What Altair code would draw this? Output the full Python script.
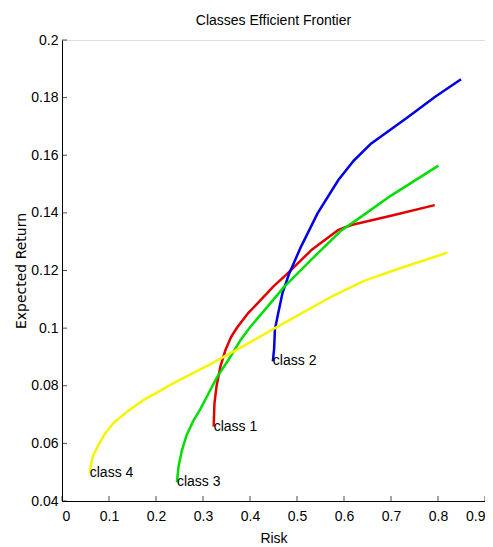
import altair as alt
import pandas as pd

# ---- data ----
c1_risk = [0.3227, 0.3244, 0.3287, 0.337, 0.348, 0.36, 0.373, 0.395, 0.416, 0.45, 0.48, 0.53, 0.587, 0.6156, 0.70, 0.793]
c1_ret  = [0.0658, 0.0739, 0.0797, 0.0866, 0.0925, 0.0970, 0.1003, 0.1050, 0.1086, 0.1145, 0.1190, 0.1270, 0.1340, 0.1358, 0.1390, 0.1427]

c2_risk = [0.4486, 0.4514, 0.4529, 0.460, 0.469, 0.4835, 0.5086, 0.544, 0.588, 0.62, 0.658, 0.737, 0.794, 0.849]
c2_ret  = [0.0885, 0.0930, 0.0994, 0.1052, 0.1121, 0.1190, 0.1283, 0.1399, 0.1514, 0.1580, 0.1641, 0.1734, 0.1803, 0.1864]

c3_risk = [0.2445, 0.248, 0.255, 0.265, 0.28, 0.294, 0.31, 0.33, 0.36, 0.38, 0.401, 0.44, 0.473, 0.53, 0.595, 0.637, 0.70, 0.801]
c3_ret  = [0.0465, 0.0520, 0.0575, 0.0628, 0.0680, 0.0718, 0.0768, 0.0830, 0.0905, 0.0959, 0.1005, 0.1080, 0.1144, 0.1237, 0.1340, 0.1387, 0.1460, 0.1564]

c4_risk = [0.059, 0.062, 0.066, 0.0767, 0.09, 0.1088, 0.14, 0.173, 0.2445, 0.316, 0.38, 0.4587, 0.573, 0.644, 0.716, 0.82]
c4_ret  = [0.0496, 0.0530, 0.0556, 0.0592, 0.0630, 0.0670, 0.0712, 0.0750, 0.0815, 0.0875, 0.0932, 0.1005, 0.1109, 0.1165, 0.1206, 0.1262]

classes = ["class 1", "class 2", "class 3", "class 4"]
colors = ["#e00000", "#0000e6", "#00dd00", "#f5f500"]

x_ticks = [0, 0.1, 0.2, 0.3, 0.4, 0.5, 0.6, 0.7, 0.8, 0.9]
y_ticks = [0.04, 0.06, 0.08, 0.1, 0.12, 0.14, 0.16, 0.18, 0.2]

series = [(c1_risk, c1_ret), (c2_risk, c2_ret), (c3_risk, c3_ret), (c4_risk, c4_ret)]
rows = []
for name, (xs_, ys_) in zip(classes, series):
    for i, (xv, yv) in enumerate(zip(xs_, ys_)):
        rows.append({"cls": name, "risk": xv, "ret": yv, "i": i})
df = pd.DataFrame(rows)
labels = pd.DataFrame({"cls": classes,
                       "risk": [s[0][0] for s in series],
                       "ret": [s[1][0] for s in series]})

FONT = "Liberation Sans Narrow, Arial Narrow, Liberation Sans, sans-serif"
W, H = 423, 461

xs = alt.Scale(domain=[0, 0.9], nice=False, zero=False)
ys = alt.Scale(domain=[0.04, 0.2], nice=False, zero=False)

lines = alt.Chart(df).mark_line(strokeWidth=2.5, strokeJoin="round").encode(
    x=alt.X("risk:Q", scale=xs, title="Risk",
            axis=alt.Axis(values=x_ticks, format="~g", grid=False, tickSize=0,
                          domainColor="black", labelColor="black", labelFont=FONT,
                          labelFontSize=14, labelPadding=8, titleFont=FONT,
                          titleFontSize=14, titleFontWeight="normal", titlePadding=8,
                          titleColor="black")),
    y=alt.Y("ret:Q", scale=ys, title="Expected Return",
            axis=alt.Axis(values=y_ticks, format="~g", grid=False, tickSize=0,
                          domainColor="black", labelColor="black", labelFont=FONT,
                          labelFontSize=14, labelPadding=4, titleFont="DejaVu Sans",
                          titleFontSize=14, titleFontWeight="normal", titlePadding=2,
                          titleColor="black")),
    color=alt.Color("cls:N", scale=alt.Scale(domain=classes, range=colors), legend=None),
    order="i:Q",
)

text = alt.Chart(labels).mark_text(align="left", baseline="middle", font=FONT,
                                   fontSize=14, color="black", dx=0).encode(
    x=alt.X("risk:Q", scale=xs), y=alt.Y("ret:Q", scale=ys), text="cls:N")

xt = alt.Chart(pd.DataFrame({"v": x_ticks})).mark_tick(
    orient="vertical", size=5, thickness=1, color="black").encode(
    x=alt.X("v:Q", scale=xs), y=alt.value(H - 2.5))
yt = alt.Chart(pd.DataFrame({"v": y_ticks})).mark_tick(
    orient="horizontal", size=5, thickness=1, color="black").encode(
    y=alt.Y("v:Q", scale=ys), x=alt.value(2.5))

chart = alt.layer(lines, text, xt, yt).properties(
    width=W, height=H,
    title=alt.TitleParams("Classes Efficient Frontier", font=FONT, fontSize=14,
                          fontWeight="normal", color="black", offset=5),
    autosize=alt.AutoSizeParams(type="none"),
    padding={"left": 54, "top": 32, "right": 0, "bottom": 44},
).configure_view(stroke=None).configure(background="white")

chart.save("out.html", embed_options={"renderer": "svg", "actions": False})
